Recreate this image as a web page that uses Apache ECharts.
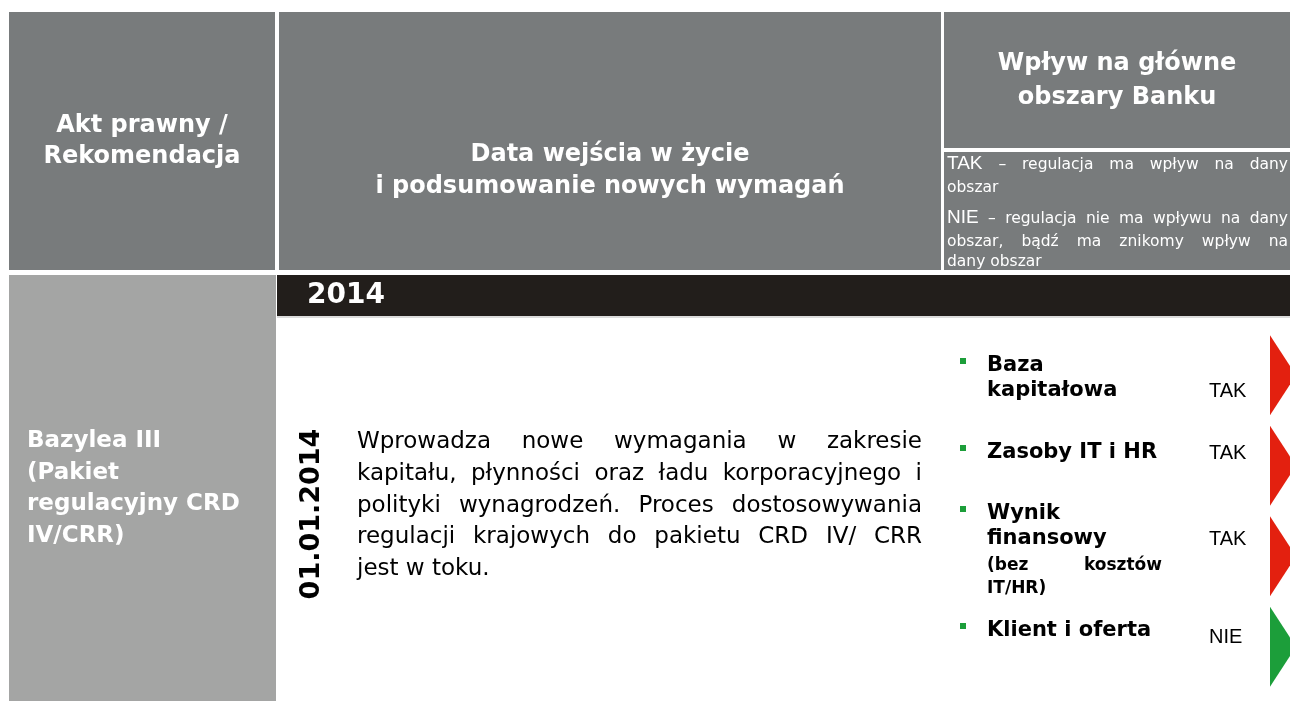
<!DOCTYPE html>
<html>
<head>
<meta charset="utf-8">
<script src="https://cdn.jsdelivr.net/npm/echarts@6/dist/echarts.min.js"></script>
<style>
  html, body { margin: 0; padding: 0; background: #fff; }
  #chart { width: 1290px; height: 701px; }
</style>
</head>
<body>
<div id="chart"></div>
<script>
// nagłówki kolumn
const headAct = ['Akt prawny /', 'Rekomendacja'];
const headDate = ['Data wejścia w życie', 'i podsumowanie nowych wymagań'];
const headImpact = ['Wpływ na główne', 'obszary Banku'];
// legenda TAK / NIE
const legendYes = ['TAK', '– regulacja ma wpływ na dany', 'obszar'];
const legendNo = ['NIE', '– regulacja nie ma wpływu na dany', 'obszar, bądź ma znikomy wpływ na', 'dany obszar'];

// wiersz 2014
const yearLabel = '2014';
const actLines = ['Bazylea III', '(Pakiet', 'regulacyjny CRD', 'IV/CRR)'];
const entryDate = '01.01.2014';
const summaryLines = [
  'Wprowadza nowe wymagania w zakresie',
  'kapitału, płynności oraz ładu korporacyjnego i',
  'polityki wynagrodzeń. Proces dostosowywania',
  'regulacji krajowych do pakietu CRD IV/ CRR',
  'jest w toku.'
];

// obszary Banku i wpływ
const areas = ['Baza kapitałowa', 'Zasoby IT i HR', 'Wynik finansowy', 'Klient i oferta'];
const areaLines = [['Baza', 'kapitałowa'], ['Zasoby IT i HR'], ['Wynik', 'finansowy'], ['Klient i oferta']];
const areaNotes = [null, null, ['(bez kosztów', 'IT/HR)'], null];
const impact = ['TAK', 'TAK', 'TAK', 'NIE'];

const SANS = '"DejaVu Sans", Verdana, sans-serif';
const ARIAL = '"Liberation Sans", Arial, sans-serif';
const HEAD_GREY = '#787b7c';
const LIGHT_GREY = '#a4a5a4';
const DARK = '#221e1b';
const impactColor = { TAK: '#e3200f', NIE: '#1c9e3a' };

const ctx = document.createElement('canvas').getContext('2d');
const fontOf = (size, bold, fam) => (bold ? 'bold ' : '') + size + 'px ' + (fam || SANS);
const measure = (t, f) => { ctx.font = f; return ctx.measureText(t).width; };

const els = [];
function rect(x, y, w, h, fill) {
  els.push({ type: 'rect', silent: true, shape: { x: x, y: y, width: w, height: h }, style: { fill: fill } });
}
// y = linia bazowa tekstu
function text(t, x, base, size, bold, fill, align, fam) {
  els.push({
    type: 'text', silent: true, x: x, y: base - 0.346 * size,
    style: { text: t, font: fontOf(size, bold, fam), fill: fill || '#000', align: align || 'left', verticalAlign: 'middle' }
  });
}
// wyjustowana linia (słowa rozsunięte od x0 do x1)
function justify(tokens, x0, x1, base, last, fill) {
  const ws = tokens.map(k => measure(k.t, fontOf(k.size, k.bold, k.fam)));
  const total = ws.reduce((a, b) => a + b, 0);
  let gap = measure(' ', fontOf(tokens[0].size, tokens[0].bold, tokens[0].fam));
  if (!last && tokens.length > 1) gap = (x1 - x0 - total) / (tokens.length - 1);
  let x = x0;
  tokens.forEach((k, i) => {
    text(k.t, x, base, k.size, k.bold, fill, 'left', k.fam);
    x += ws[i] + gap;
  });
}
const words = (s, size, bold) => s.split(' ').map(w => ({ t: w, size: size, bold: bold }));

// komórki tabeli
rect(9, 12, 266, 258, HEAD_GREY);
rect(279, 12, 662, 258, HEAD_GREY);
rect(944, 12, 346, 136, HEAD_GREY);
rect(944, 152, 346, 118, HEAD_GREY);
rect(9, 275, 267, 426, LIGHT_GREY);
rect(277, 275, 1013, 41, DARK);
rect(277, 316, 1013, 2, '#dcdcdc');

// nagłówki
headAct.forEach((s, i) => text(s, 142, 134 + i * 31, 24, true, '#fff', 'center'));
headDate.forEach((s, i) => text(s, 610, 163 + i * 32, 24, true, '#fff', 'center'));
headImpact.forEach((s, i) => text(s, 1117, 72 + i * 34, 24, true, '#fff', 'center'));

// legenda
const LX0 = 947, LX1 = 1288;
justify([{ t: legendYes[0], size: 19, fam: ARIAL }].concat(words(legendYes[1], 15.5)), LX0, LX1, 170, false, '#fff');
justify(words(legendYes[2], 15.5), LX0, LX1, 193, true, '#fff');
justify([{ t: legendNo[0], size: 19, fam: ARIAL }].concat(words(legendNo[1], 15.5)), LX0, LX1, 224, false, '#fff');
justify(words(legendNo[2], 15.5), LX0, LX1, 247, false, '#fff');
justify(words(legendNo[3], 15.5), LX0, LX1, 267, true, '#fff');

// wiersz 2014
text(yearLabel, 307, 305, 28, true, '#fff');
actLines.forEach((s, i) => text(s, 27, 449 + i * 31.5, 23, true, '#fff'));
els.push({
  type: 'text', silent: true, x: 312, y: 514, rotation: Math.PI / 2,
  style: { text: entryDate, font: fontOf(27, true), fill: '#000', align: 'center', verticalAlign: 'middle' }
});
summaryLines.forEach((s, i) => justify(words(s, 23), 357, 922, 450 + i * 31.75, i === summaryLines.length - 1, '#000'));

// obszary
const areaBase = [[373, 398], [460], [521, 546], [638]];
const noteBase = [null, null, [571, 594], null];
const markBase = [398, 460, 546, 644];
areaLines.forEach((lines, i) => {
  rect(960, areaBase[i][0] - 15, 6, 6, '#1c9e3a');
  lines.forEach((s, j) => text(s, 987, areaBase[i][j], 21, true, '#000'));
  if (areaNotes[i]) {
    const n = areaNotes[i];
    justify(words(n[0], 17, true), 987, 1162, noteBase[i][0], false, '#000');
    text(n[1], 987, noteBase[i][1], 17, true, '#000');
  }
  text(impact[i], 1209, markBase[i], 20, false, '#000', 'left', ARIAL);
});

const chart = echarts.init(document.getElementById('chart'));
chart.setOption({
  animation: false,
  graphic: { elements: els },
  grid: { left: 1276, top: 330, width: 26, height: 362 },
  xAxis: { type: 'value', min: 0, max: 1, show: false },
  yAxis: { type: 'category', data: areas, inverse: true, show: false },
  series: [{
    type: 'scatter',
    silent: true,
    symbol: 'path://M0,0L10,5L0,10Z',
    symbolSize: [26, 80],
    itemStyle: { opacity: 1 },
    data: areas.map((a, i) => ({ value: [0.5, a], itemStyle: { color: impactColor[impact[i]], opacity: 1 } }))
  }]
});
</script>
</body>
</html>
